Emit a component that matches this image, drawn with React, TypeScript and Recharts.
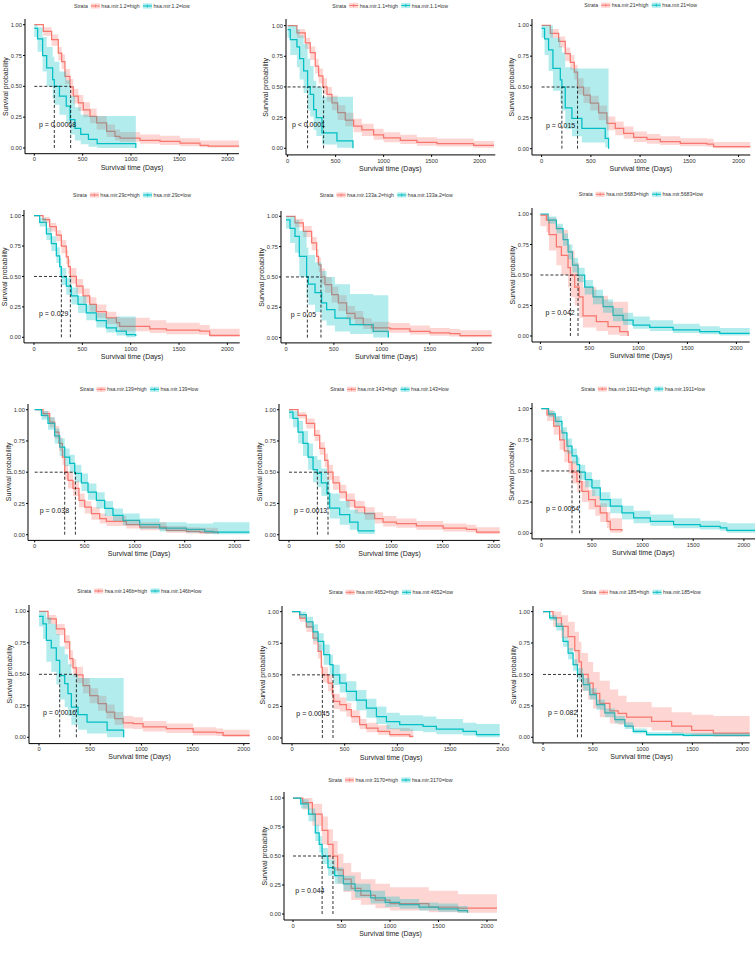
import React from 'react';
import { ComposedChart, Line, Area, XAxis, YAxis, ReferenceLine, ReferenceDot } from 'recharts';

type Row = [number, number, number, number]; // day, survival, lower CI, upper CI

const xTicks = [0, 500, 1000, 1500, 2000];
const yTicks = [0, 0.25, 0.5, 0.75, 1];

// ---------- data ----------
const mir12High: Row[] = [[0,1,1,1],[93,0.946,0.91,0.98],[179,0.878,0.83,0.92],[248,0.77,0.71,0.82],[283,0.70,0.64,0.76],[317,0.58,0.52,0.64],[369,0.495,0.43,0.56],[403,0.42,0.36,0.48],[455,0.365,0.30,0.43],[507,0.31,0.25,0.37],[576,0.257,0.20,0.32],[645,0.203,0.15,0.26],[748,0.135,0.09,0.19],[834,0.095,0.06,0.15],[886,0.081,0.05,0.13],[1093,0.062,0.035,0.11],[1300,0.054,0.025,0.10],[1507,0.04,0.015,0.08],[1714,0.022,0.005,0.06],[1800,0.015,0.003,0.06],[2150,0.015,0.003,0.06]];
const mir12Low: Row[] = [[0,0.97,0.9,1],[34,0.885,0.78,0.98],[86,0.75,0.62,0.9],[128,0.65,0.5,0.82],[190,0.555,0.4,0.74],[207,0.5,0.35,0.7],[260,0.42,0.27,0.62],[330,0.34,0.2,0.55],[370,0.23,0.11,0.42],[420,0.16,0.06,0.33],[480,0.11,0.03,0.27],[560,0.07,0.01,0.26],[650,0.035,0,0.26],[1050,0,0,0]];

const mir11High: Row[] = [[0,1,1,1],[97,0.94,0.9,0.97],[184,0.86,0.81,0.9],[236,0.78,0.72,0.83],[288,0.67,0.61,0.73],[323,0.59,0.53,0.65],[368,0.50,0.44,0.57],[410,0.44,0.38,0.5],[462,0.37,0.31,0.43],[521,0.29,0.23,0.35],[601,0.23,0.18,0.29],[688,0.18,0.13,0.24],[774,0.15,0.1,0.2],[896,0.11,0.07,0.16],[1000,0.084,0.05,0.13],[1174,0.065,0.035,0.11],[1347,0.049,0.02,0.09],[1556,0.038,0.015,0.08],[1938,0.024,0.005,0.06],[2150,0.024,0.005,0.06]];
const mir11Low: Row[] = [[0,0.967,0.9,1],[28,0.886,0.76,1],[97,0.826,0.66,0.97],[125,0.73,0.56,0.92],[167,0.63,0.45,0.85],[208,0.5,0.31,0.73],[236,0.44,0.26,0.67],[271,0.315,0.15,0.55],[299,0.25,0.1,0.5],[358,0.125,0.03,0.42],[514,0.06,0.005,0.42],[681,0,0,0]];

const mir21High: Row[] = [[0,1,1,1],[88,0.935,0.9,0.97],[173,0.87,0.82,0.91],[240,0.77,0.71,0.82],[291,0.70,0.64,0.76],[332,0.62,0.56,0.68],[365,0.50,0.44,0.57],[426,0.435,0.37,0.5],[494,0.37,0.31,0.43],[579,0.29,0.23,0.35],[663,0.205,0.15,0.26],[748,0.165,0.11,0.22],[833,0.124,0.08,0.18],[934,0.092,0.055,0.14],[1069,0.076,0.04,0.12],[1205,0.057,0.03,0.1],[1408,0.043,0.02,0.085],[1679,0.038,0.015,0.08],[1746,0.016,0.003,0.055],[2150,0.016,0.003,0.055]];
const mir21Low: Row[] = [[0,0.975,0.9,1],[30,0.89,0.76,1],[71,0.80,0.63,1],[115,0.65,0.47,0.9],[190,0.557,0.37,0.83],[206,0.50,0.31,0.78],[240,0.33,0.16,0.66],[308,0.246,0.1,0.65],[409,0.165,0.05,0.65],[646,0.084,0.01,0.65],[680,0,0,0]];

const mir29cHigh: Row[] = [[0,1,1,1],[93,0.967,0.94,0.99],[162,0.91,0.87,0.94],[231,0.84,0.79,0.88],[283,0.75,0.69,0.8],[334,0.66,0.6,0.72],[355,0.58,0.52,0.64],[376,0.50,0.44,0.57],[438,0.42,0.36,0.48],[507,0.34,0.28,0.4],[576,0.27,0.21,0.33],[645,0.21,0.16,0.27],[748,0.16,0.11,0.21],[852,0.12,0.08,0.17],[886,0.09,0.05,0.16],[1197,0.07,0.035,0.14],[1369,0.058,0.025,0.12],[1714,0.05,0.02,0.1],[1817,0.016,0.003,0.07],[2150,0.016,0.003,0.07]];
const mir29cLow: Row[] = [[0,1,1,1],[59,0.945,0.91,0.98],[128,0.85,0.8,0.9],[179,0.77,0.71,0.83],[231,0.67,0.61,0.74],[266,0.58,0.51,0.65],[283,0.496,0.43,0.57],[334,0.42,0.35,0.49],[386,0.34,0.27,0.41],[455,0.27,0.2,0.34],[541,0.2,0.14,0.27],[645,0.137,0.08,0.2],[748,0.077,0.04,0.16],[852,0.05,0.015,0.17],[955,0.022,0,0.17],[1052,0.01,0,0.17]];

const mir133High: Row[] = [[0,1,1,1],[94,0.945,0.91,0.98],[181,0.876,0.83,0.92],[268,0.78,0.72,0.83],[320,0.67,0.61,0.73],[340,0.6,0.54,0.66],[365,0.50,0.44,0.57],[407,0.437,0.37,0.5],[477,0.354,0.29,0.42],[546,0.286,0.22,0.35],[633,0.2,0.15,0.26],[720,0.16,0.11,0.22],[807,0.107,0.07,0.16],[894,0.08,0.045,0.13],[1085,0.071,0.04,0.12],[1294,0.052,0.025,0.1],[1503,0.038,0.015,0.08],[1711,0.033,0.01,0.07],[1816,0.016,0.003,0.06],[2150,0.016,0.003,0.06]];
const mir133Low: Row[] = [[0,0.97,0.9,1],[42,0.9,0.78,1],[94,0.835,0.7,0.97],[139,0.67,0.5,0.88],[215,0.5,0.33,0.74],[233,0.44,0.27,0.68],[303,0.37,0.21,0.62],[372,0.286,0.14,0.55],[424,0.23,0.1,0.5],[511,0.16,0.05,0.44],[668,0.107,0.03,0.36],[911,0.052,0,0.35],[1068,0,0,0]];

const mir5683High: Row[] = [[0,0.99,0.9,1],[61,0.95,0.85,1],[88,0.83,0.7,0.97],[163,0.73,0.58,0.9],[214,0.66,0.5,0.87],[282,0.56,0.4,0.75],[306,0.50,0.32,0.7],[350,0.40,0.25,0.6],[395,0.32,0.15,0.5],[435,0.164,0.07,0.4],[571,0.117,0.04,0.33],[690,0.077,0.01,0.28],[810,0.035,0,0.28],[895,0,0,0]];
const mir5683Low: Row[] = [[0,1,1,1],[78,0.95,0.92,0.98],[163,0.88,0.84,0.92],[231,0.79,0.74,0.84],[282,0.69,0.63,0.75],[327,0.58,0.52,0.64],[384,0.50,0.44,0.56],[452,0.40,0.34,0.46],[537,0.32,0.26,0.38],[639,0.24,0.19,0.3],[741,0.17,0.12,0.23],[844,0.13,0.09,0.19],[946,0.09,0.06,0.16],[1116,0.07,0.04,0.13],[1354,0.05,0.025,0.1],[1626,0.036,0.015,0.08],[1830,0.022,0.005,0.065],[2150,0.022,0.005,0.065]];

const mir139High: Row[] = [[0,1,1,1],[83,0.968,0.94,0.99],[150,0.9,0.86,0.94],[200,0.82,0.77,0.87],[243,0.73,0.67,0.78],[277,0.62,0.56,0.68],[300,0.50,0.44,0.56],[333,0.435,0.37,0.5],[383,0.37,0.31,0.43],[443,0.275,0.22,0.33],[500,0.22,0.17,0.27],[567,0.168,0.12,0.22],[650,0.128,0.09,0.17],[717,0.107,0.07,0.15],[917,0.08,0.05,0.12],[1050,0.06,0.035,0.1],[1317,0.035,0.015,0.07],[1517,0.027,0.01,0.06],[1650,0.021,0.005,0.055],[1833,0.008,0,0.05]];
const mir139Low: Row[] = [[0,1,1,1],[67,0.955,0.92,0.99],[133,0.89,0.84,0.94],[200,0.79,0.73,0.85],[250,0.70,0.63,0.77],[300,0.62,0.55,0.69],[350,0.57,0.5,0.64],[400,0.49,0.42,0.56],[467,0.415,0.35,0.49],[533,0.34,0.28,0.41],[617,0.275,0.21,0.34],[700,0.21,0.15,0.27],[783,0.155,0.11,0.21],[883,0.115,0.075,0.17],[1050,0.08,0.045,0.13],[1250,0.053,0.025,0.1],[1517,0.043,0.015,0.09],[1700,0.027,0.005,0.09],[1783,0.021,0.003,0.1],[2150,0.021,0.003,0.1]];

const mir143High: Row[] = [[0,1,1,1],[88,0.955,0.93,0.98],[169,0.89,0.85,0.93],[251,0.795,0.75,0.84],[300,0.69,0.64,0.74],[349,0.595,0.54,0.65],[381,0.50,0.44,0.56],[430,0.415,0.36,0.47],[495,0.34,0.29,0.4],[560,0.275,0.22,0.33],[642,0.22,0.17,0.27],[739,0.168,0.12,0.22],[837,0.128,0.09,0.18],[919,0.1,0.065,0.15],[1049,0.088,0.055,0.13],[1244,0.07,0.04,0.11],[1505,0.053,0.025,0.09],[1733,0.043,0.02,0.08],[1831,0.021,0.005,0.06],[2150,0.021,0.005,0.06]];
const mir143Low: Row[] = [[0,0.98,0.93,1],[39,0.93,0.86,0.99],[88,0.82,0.73,0.91],[137,0.73,0.63,0.83],[186,0.62,0.52,0.73],[235,0.52,0.42,0.63],[277,0.49,0.38,0.6],[316,0.415,0.31,0.53],[371,0.33,0.23,0.44],[397,0.213,0.13,0.33],[495,0.16,0.08,0.27],[593,0.1,0.04,0.2],[674,0.03,0.005,0.18],[837,0.03,0.005,0.18]];

const mir1911High: Row[] = [[0,1,1,1],[56,0.95,0.9,0.99],[122,0.86,0.79,0.93],[181,0.75,0.67,0.83],[227,0.66,0.57,0.75],[270,0.57,0.48,0.66],[303,0.49,0.4,0.58],[352,0.415,0.33,0.5],[401,0.337,0.25,0.42],[467,0.27,0.19,0.35],[533,0.217,0.14,0.3],[582,0.163,0.09,0.24],[648,0.096,0.04,0.17],[681,0.03,0.005,0.12],[796,0.016,0,0.12]];
const mir1911Low: Row[] = [[0,1,1,1],[72,0.957,0.93,0.98],[138,0.898,0.86,0.94],[204,0.805,0.75,0.85],[253,0.70,0.64,0.76],[303,0.62,0.56,0.68],[352,0.55,0.49,0.61],[378,0.49,0.43,0.55],[434,0.43,0.37,0.49],[500,0.364,0.3,0.43],[582,0.27,0.21,0.33],[681,0.217,0.16,0.28],[796,0.163,0.11,0.22],[911,0.123,0.08,0.18],[1076,0.096,0.06,0.15],[1306,0.07,0.04,0.12],[1569,0.056,0.03,0.1],[1766,0.043,0.02,0.09],[1832,0.024,0.005,0.08],[2150,0.024,0.005,0.08]];

const mir146bHigh: Row[] = [[0,1,1,1],[88,0.94,0.9,0.97],[169,0.86,0.81,0.9],[251,0.757,0.7,0.81],[300,0.624,0.56,0.69],[332,0.55,0.48,0.62],[365,0.495,0.43,0.56],[430,0.41,0.35,0.47],[495,0.33,0.27,0.39],[577,0.267,0.21,0.33],[658,0.2,0.15,0.26],[739,0.148,0.1,0.2],[821,0.114,0.07,0.17],[919,0.108,0.065,0.16],[1016,0.082,0.045,0.13],[1244,0.069,0.035,0.11],[1505,0.042,0.015,0.08],[1733,0.037,0.01,0.07],[1798,0.016,0.003,0.06],[2150,0.016,0.003,0.06]];
const mir146bLow: Row[] = [[0,0.96,0.88,1],[39,0.9,0.78,1],[72,0.77,0.6,0.95],[120,0.71,0.52,0.9],[169,0.61,0.42,0.82],[202,0.49,0.3,0.72],[251,0.426,0.24,0.66],[283,0.347,0.17,0.58],[316,0.24,0.1,0.5],[381,0.18,0.06,0.47],[469,0.12,0.03,0.47],[665,0.056,0,0.47],[827,0,0,0]];

const mir4652High: Row[] = [[0,1,1,1],[73,0.95,0.92,0.98],[136,0.88,0.84,0.92],[199,0.79,0.74,0.84],[247,0.686,0.63,0.74],[278,0.56,0.5,0.62],[288,0.50,0.44,0.56],[342,0.435,0.37,0.5],[383,0.343,0.28,0.4],[396,0.29,0.23,0.35],[453,0.264,0.21,0.32],[516,0.224,0.17,0.28],[563,0.17,0.12,0.22],[642,0.105,0.07,0.15],[706,0.079,0.045,0.12],[816,0.053,0.025,0.1],[927,0.026,0.008,0.08],[1117,0.013,0.002,0.07],[1150,0.013,0.002,0.07]];
const mir4652Low: Row[] = [[0,1,1,1],[73,0.976,0.95,1],[136,0.92,0.87,0.96],[199,0.84,0.77,0.9],[247,0.765,0.69,0.83],[301,0.66,0.58,0.74],[358,0.58,0.5,0.66],[389,0.50,0.42,0.58],[453,0.435,0.36,0.51],[516,0.37,0.29,0.45],[611,0.30,0.22,0.38],[706,0.237,0.16,0.31],[801,0.17,0.11,0.25],[896,0.13,0.07,0.2],[1022,0.105,0.055,0.18],[1244,0.092,0.045,0.17],[1370,0.071,0.03,0.15],[1623,0.053,0.02,0.12],[1750,0.026,0.005,0.11],[2150,0.026,0.005,0.11]];

const mir185High: Row[] = [[0,1,1,1],[101,0.95,0.88,1],[185,0.883,0.79,0.97],[252,0.80,0.69,0.92],[319,0.69,0.57,0.84],[362,0.60,0.47,0.76],[386,0.50,0.37,0.67],[453,0.43,0.3,0.6],[503,0.35,0.23,0.52],[570,0.27,0.16,0.45],[671,0.21,0.11,0.38],[755,0.19,0.1,0.33],[839,0.16,0.08,0.28],[1091,0.127,0.055,0.24],[1292,0.088,0.03,0.2],[1493,0.056,0.015,0.18],[1711,0.034,0.005,0.17],[2150,0.034,0.005,0.17]];
const mir185Low: Row[] = [[0,1,1,1],[67,0.95,0.93,0.97],[134,0.883,0.85,0.91],[201,0.764,0.72,0.8],[252,0.67,0.62,0.71],[302,0.578,0.53,0.62],[346,0.50,0.45,0.55],[403,0.42,0.37,0.47],[470,0.34,0.3,0.39],[537,0.26,0.22,0.3],[621,0.194,0.16,0.23],[721,0.14,0.11,0.17],[822,0.088,0.065,0.12],[906,0.048,0.03,0.07],[1040,0.021,0.01,0.04],[1409,0.016,0.006,0.035],[2150,0.016,0.006,0.035]];

const mir3170High: Row[] = [[0,1,1,1],[100,0.96,0.9,1],[200,0.86,0.76,0.95],[300,0.72,0.6,0.84],[360,0.6,0.47,0.73],[412,0.5,0.37,0.63],[460,0.38,0.26,0.52],[520,0.3,0.19,0.44],[600,0.22,0.12,0.36],[700,0.16,0.08,0.3],[850,0.12,0.05,0.26],[1000,0.09,0.03,0.23],[1400,0.06,0.015,0.2],[1700,0.05,0.01,0.17],[2150,0.05,0.01,0.17]];
const mir3170Low: Row[] = [[0,1,1,1],[80,0.95,0.91,0.99],[160,0.86,0.8,0.91],[230,0.7,0.63,0.77],[270,0.6,0.53,0.67],[300,0.5,0.43,0.57],[360,0.4,0.33,0.47],[430,0.33,0.26,0.4],[520,0.26,0.2,0.33],[640,0.2,0.14,0.26],[800,0.14,0.09,0.2],[950,0.1,0.06,0.15],[1100,0.08,0.045,0.13],[1300,0.06,0.03,0.1],[1500,0.045,0.02,0.09],[1700,0.03,0.01,0.07],[1800,0.01,0,0.05]];

const mirNames = ['hsa.mir.1.2', 'hsa.mir.1.1', 'hsa.mir.21', 'hsa.mir.29c', 'hsa.mir.133a.2', 'hsa.mir.5683', 'hsa.mir.139', 'hsa.mir.143', 'hsa.mir.1911', 'hsa.mir.146b', 'hsa.mir.4652', 'hsa.mir.185', 'hsa.mir.3170'];
const pLabels = ['p = 0.00068', 'p < 0.0001', 'p = 0.015', 'p = 0.029', 'p = 0.05', 'p = 0.042', 'p = 0.038', 'p = 0.0013', 'p = 0.0064', 'p = 0.0016', 'p = 0.0045', 'p = 0.082', 'p = 0.044'];
const pLabelAt: [number, number][] = [[48, 0.19], [45, 0.19], [44, 0.19], [52, 0.195], [49, 0.19], [51, 0.19], [50, 0.19], [49, 0.195], [46, 0.195], [39, 0.193], [41, 0.19], [50, 0.2], [22, 0.2]];
// median survival [high, low] in days
const medianDays: [number, number][] = [[376, 207], [375, 208], [365, 206], [376, 283], [365, 223], [306, 384], [300, 407], [381, 277], [303, 378], [365, 202], [288, 389], [386, 346], [412, 300]];
const curves: [Row[], Row[]][] = [
  [mir12High, mir12Low], [mir11High, mir11Low], [mir21High, mir21Low],
  [mir29cHigh, mir29cLow], [mir133High, mir133Low], [mir5683High, mir5683Low],
  [mir139High, mir139Low], [mir143High, mir143Low], [mir1911High, mir1911Low],
  [mir146bHigh, mir146bLow], [mir4652High, mir4652Low], [mir185High, mir185Low],
  [mir3170High, mir3170Low],
];

// ---------- layout (page pixels) ----------
type Geo = { axisX: number; x0: number; k: number; y1: number; y0: number; axisY: number; right: number; legendY: number };
const layout: Geo[] = [
  { axisX: 25, x0: 34.3, k: 96.7, y1: 25, y0: 148.3, axisY: 154, right: 239, legendY: 6 },
  { axisX: 285.7, x0: 287.3, k: 96, y1: 26, y0: 148.7, axisY: 155.3, right: 495, legendY: 5.5 },
  { axisX: 531.7, x0: 541.3, k: 98.5, y1: 25.3, y0: 148.7, axisY: 155, right: 750, legendY: 5.2 },
  { axisX: 24.3, x0: 34.3, k: 96.7, y1: 216, y0: 337.7, axisY: 343.3, right: 240, legendY: 195 },
  { axisX: 281, x0: 286, k: 95.8, y1: 216.7, y0: 338, axisY: 343.3, right: 491.7, legendY: 195 },
  { axisX: 532.3, x0: 540.7, k: 98, y1: 214, y0: 336, axisY: 342, right: 750, legendY: 194.3 },
  { axisX: 28.3, x0: 35, k: 100, y1: 409.3, y0: 534.3, axisY: 540, right: 250, legendY: 389.3 },
  { axisX: 279.3, x0: 289.3, k: 102.4, y1: 409.3, y0: 534.3, axisY: 540, right: 500, legendY: 389.3 },
  { axisX: 531.7, x0: 541, k: 101.3, y1: 409, y0: 533.7, axisY: 539.3, right: 755, legendY: 389 },
  { axisX: 29.3, x0: 39.3, k: 102.4, y1: 611, y0: 737, axisY: 743.3, right: 250, legendY: 591 },
  { axisX: 282.3, x0: 292.3, k: 105.4, y1: 612, y0: 738.3, axisY: 744, right: 500, legendY: 592.3 },
  { axisX: 533.3, x0: 543.3, k: 99.6, y1: 612, y0: 737.7, axisY: 743.3, right: 750, legendY: 592.3 },
  { axisX: 284, x0: 293, k: 97, y1: 798, y0: 914, axisY: 920, right: 497, legendY: 780 },
];

const FONT = '"Liberation Sans", Arial, Helvetica, sans-serif';
const RED = '#F8766D';
const TEAL = '#00BFC4';
const YW = 30;
const XH = 24;
const RM = 14;

const CW: Record<string, number> = { a: .556, b: .556, c: .5, g: .556, h: .556, i: .222, l: .222, m: .833, o: .556, r: .333, s: .5, t: .278, w: .722, v: .5, S: .667, '.': .278, '=': .584 };
const textW = (s: string, fs: number) => s.split('').reduce((a, c) => a + (CW[c] ?? .556), 0) * fs;

const toPts = (rows: Row[]) => rows.map(([t, s, lo, hi]) => ({ t, s, band: [lo, hi] }));

function Panel({ i }: { i: number }) {
  const g = layout[i];
  const [hRows, lRows] = curves[i];
  const high = toPts(hRows);
  const low = toPts(lRows);
  const xmin = ((g.axisX - g.x0) / g.k) * 1000;
  const xmax = ((g.right - g.x0) / g.k) * 1000;
  const pad = (g.axisY - g.y0) / (g.y0 - g.y1);
  const plotTop = g.y1 - (g.axisY - g.y0);
  const W = g.right - g.axisX + YW + RM;
  const H = g.axisY - plotTop + XH;
  const [mh, ml] = medianDays[i];
  const mMax = Math.max(mh, ml);
  const tick = { fontSize: 5.8, fill: '#333', fontFamily: FONT };
  const xDom: [number, number] = [xmin, xmax];
  const yDom: [number, number] = [-pad, 1 + pad];
  return (
    <div style={{ position: 'absolute', left: g.axisX - YW, top: plotTop, width: W, height: H }}>
      {/* layer 1: axes and survival curves */}
      <div style={{ position: 'absolute', left: 0, top: 0 }}>
        <ComposedChart width={W} height={H} margin={{ top: 0, right: RM, bottom: 0, left: 0 }}>
          <XAxis dataKey="t" type="number" domain={xDom} allowDataOverflow ticks={xTicks} interval={0}
            height={XH} tickSize={2} tickMargin={1.5} stroke="#000" tick={tick} />
          <YAxis type="number" domain={yDom} allowDataOverflow ticks={yTicks} interval={0}
            width={YW} tickSize={2} tickMargin={1} stroke="#000" tick={tick} tickFormatter={(v: number) => v.toFixed(2)} />
          <Line data={high} dataKey="s" type="stepAfter" stroke={RED} strokeWidth={1.25} dot={false} isAnimationActive={false} />
          <Line data={low} dataKey="s" type="stepAfter" stroke={TEAL} strokeWidth={1.25} dot={false} isAnimationActive={false} />
        </ComposedChart>
      </div>
      {/* layer 2: confidence bands drawn over the curves, then median lines and p-value */}
      <div style={{ position: 'absolute', left: 0, top: 0, pointerEvents: 'none' }}>
        <ComposedChart width={W} height={H} margin={{ top: 0, right: RM, bottom: XH, left: YW }}>
          <XAxis dataKey="t" type="number" domain={xDom} allowDataOverflow hide />
          <YAxis type="number" domain={yDom} allowDataOverflow hide />
          <Area data={high} dataKey="band" type="stepAfter" fill={RED} fillOpacity={0.3} stroke="none" isAnimationActive={false} />
          <Area data={low} dataKey="band" type="stepAfter" fill={TEAL} fillOpacity={0.3} stroke="none" isAnimationActive={false} />
          <ReferenceLine segment={[{ x: 0, y: 0.5 }, { x: mMax, y: 0.5 }]} stroke="#000" strokeWidth={0.8} strokeDasharray="3 2" ifOverflow="visible" />
          <ReferenceLine segment={[{ x: mh, y: 0 }, { x: mh, y: 0.5 }]} stroke="#000" strokeWidth={0.8} strokeDasharray="3 2" ifOverflow="visible" />
          <ReferenceLine segment={[{ x: ml, y: 0 }, { x: ml, y: 0.5 }]} stroke="#000" strokeWidth={0.8} strokeDasharray="3 2" ifOverflow="visible" />
          <ReferenceDot x={pLabelAt[i][0]} y={pLabelAt[i][1]} r={0} fill="none" stroke="none" ifOverflow="visible"
            label={{ value: pLabels[i], position: 'insideLeft', offset: 0, fontSize: 7, fill: '#111', fontFamily: FONT }} />
        </ComposedChart>
      </div>
    </div>
  );
}

function LegendAndTitles({ i }: { i: number }) {
  const g = layout[i];
  const fs = 5.2;
  const name = mirNames[i];
  const hiT = `${name}=high`;
  const loT = `${name}=low`;
  const keyW = 9;
  const total = textW('Strata', fs) + 3 + keyW + 1.5 + textW(hiT, fs) + 3 + keyW + 1.5 + textW(loT, fs);
  const cx = (g.axisX + g.right) / 2;
  let x = cx - total / 2;
  const y = g.legendY;
  const xStrata = x; x += textW('Strata', fs) + 3;
  const k1 = x; x += keyW + 1.5;
  const t1 = x; x += textW(hiT, fs) + 3;
  const k2 = x; x += keyW + 1.5;
  const t2 = x;
  const plotTop = g.y1 - (g.axisY - g.y0);
  const key = (kx: number, col: string) => (
    <g>
      <rect x={kx} y={y - 2.6} width={keyW} height={5.2} fill={col} fillOpacity={0.3} />
      <line x1={kx} x2={kx + keyW} y1={y} y2={y} stroke={col} strokeWidth={1} />
      <line x1={kx + keyW / 2} x2={kx + keyW / 2} y1={y - 1.5} y2={y + 1.5} stroke={col} strokeWidth={0.8} />
    </g>
  );
  return (
    <g fontFamily={FONT}>
      <text x={xStrata} y={y} fontSize={fs} dominantBaseline="central" fill="#333">Strata</text>
      {key(k1, RED)}
      <text x={t1} y={y} fontSize={fs} dominantBaseline="central" fill="#333">{hiT}</text>
      {key(k2, TEAL)}
      <text x={t2} y={y} fontSize={fs} dominantBaseline="central" fill="#333">{loT}</text>
      <text x={cx} y={g.axisY + 13} fontSize={7} textAnchor="middle" dominantBaseline="central" fill="#222">Survival time (Days)</text>
      <text transform={`translate(${g.axisX - 20},${(plotTop + g.axisY) / 2}) rotate(-90)`} fontSize={7} textAnchor="middle" dominantBaseline="central" fill="#222">Survival probability</text>
    </g>
  );
}

export default function App() {
  return (
    <div style={{ position: 'absolute', left: 0, top: 0, width: 755, height: 969, background: '#fff', overflow: 'hidden', fontFamily: FONT }}>
      {layout.map((_, i) => <Panel key={i} i={i} />)}
      <svg width={755} height={969} style={{ position: 'absolute', left: 0, top: 0, pointerEvents: 'none' }}>
        {layout.map((_, i) => <LegendAndTitles key={i} i={i} />)}
      </svg>
    </div>
  );
}
